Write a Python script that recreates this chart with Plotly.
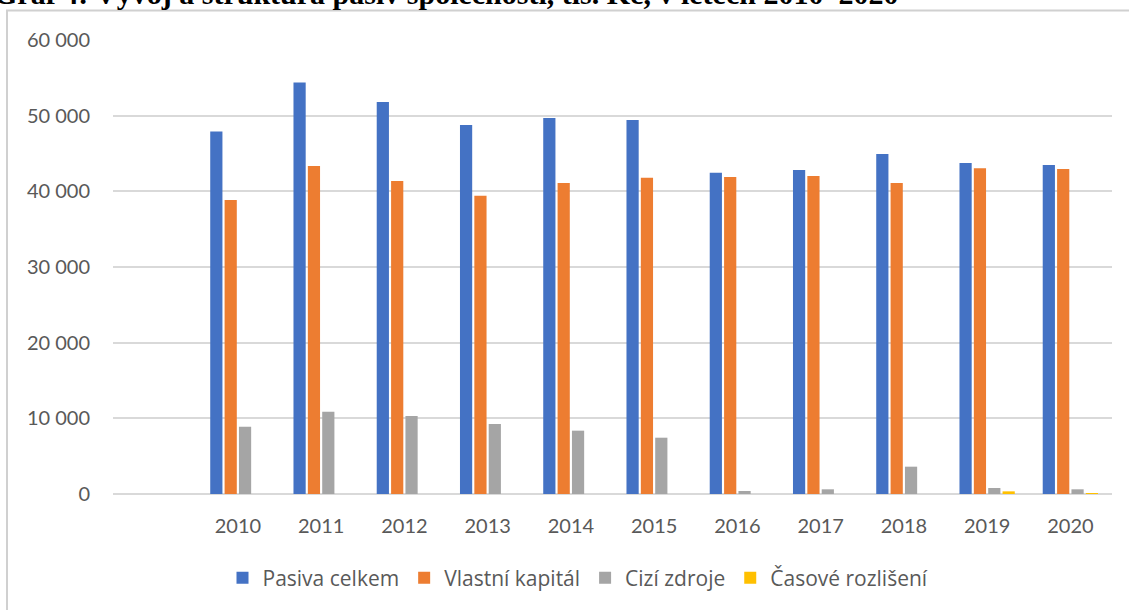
import plotly.graph_objects as go

years = [" ", "2010", "2011", "2012", "2013", "2014", "2015", "2016", "2017", "2018", "2019", "2020"]
pasiva_celkem = [None, 47900, 54370, 51800, 48780, 49700, 49440, 42440, 42830, 44950, 43760, 43490]
vlastni_kapital = [None, 38870, 43360, 41380, 39400, 41110, 41780, 41900, 42040, 41110, 43050, 42960]
cizi_zdroje = [None, 8900, 10880, 10310, 9250, 8370, 7440, 400, 620, 3610, 790, 620]
casove_rozliseni = [None, 0, 0, 0, 0, 0, 0, 0, 0, 0, 350, 50]

series = [
    ("Pasiva celkem", pasiva_celkem, "#4472C4"),
    ("Vlastní kapitál", vlastni_kapital, "#ED7D31"),
    ("Cizí zdroje", cizi_zdroje, "#A5A5A5"),
    ("Časové rozlišení", casove_rozliseni, "#FFC000"),
]

title_text = "Graf 4: Vývoj a struktura pasiv společnosti, tis. Kč, v letech 2010–2020"

fig = go.Figure()
for name, vals, col in series:
    fig.add_trace(go.Bar(x=years, y=vals, name=name, marker=dict(color=col, line=dict(width=0))))

W, H = 1129, 610
L, R, T, B = 113, 17, 40, 116
ph = H - T - B
pw = W - L - R

def px_x(x):
    return (x - L) / pw

def px_y(y):
    return (H - B - y) / ph

fig.update_layout(
    width=W, height=H,
    margin=dict(l=L, r=R, t=T, b=B, autoexpand=False),
    paper_bgcolor="white", plot_bgcolor="white",
    barmode="group", bargap=0.31, bargroupgap=0.15,
    separators=", ",
    font=dict(family="Lato, 'Open Sans', sans-serif", size=20, color="#595959"),
    showlegend=True,
    legend=dict(orientation="h", x=px_x(578), xanchor="center", y=px_y(578), yanchor="middle",
                font=dict(family="'Open Sans', Lato, sans-serif", size=21, color="#595959"),
                traceorder="normal"),
    xaxis=dict(type="category", showgrid=False, showline=False, ticks="", ticklabelstandoff=18,
               tickfont=dict(size=20, color="#595959")),
    yaxis=dict(range=[0, 60000], tickvals=[0, 10000, 20000, 30000, 40000, 50000, 60000],
               tickformat=",d", showgrid=True, gridcolor="#D9D9D9", gridwidth=1.5,
               zeroline=True, zerolinecolor="#D9D9D9", zerolinewidth=1.5,
               showline=False, ticks="", ticklabelstandoff=22,
               tickfont=dict(size=20, color="#595959")),
    shapes=[dict(type="rect", xref="paper", yref="paper",
                 x0=px_x(7), x1=px_x(1140), y0=px_y(640), y1=px_y(10.5),
                 line=dict(color="#D0D0D0", width=2), fillcolor="rgba(0,0,0,0)", layer="above")],
    annotations=[dict(text="<b>" + title_text + "</b>", xref="paper", yref="paper",
                      x=px_x(-8), xanchor="left", y=px_y(12), yanchor="bottom", showarrow=False,
                      font=dict(family="'Liberation Serif', 'Times New Roman', serif", size=30, color="black"))],
)

fig.write_html("out.html", config={"displayModeBar": False},
               post_script="document.body.style.margin='0px';document.body.style.overflow='hidden';")
